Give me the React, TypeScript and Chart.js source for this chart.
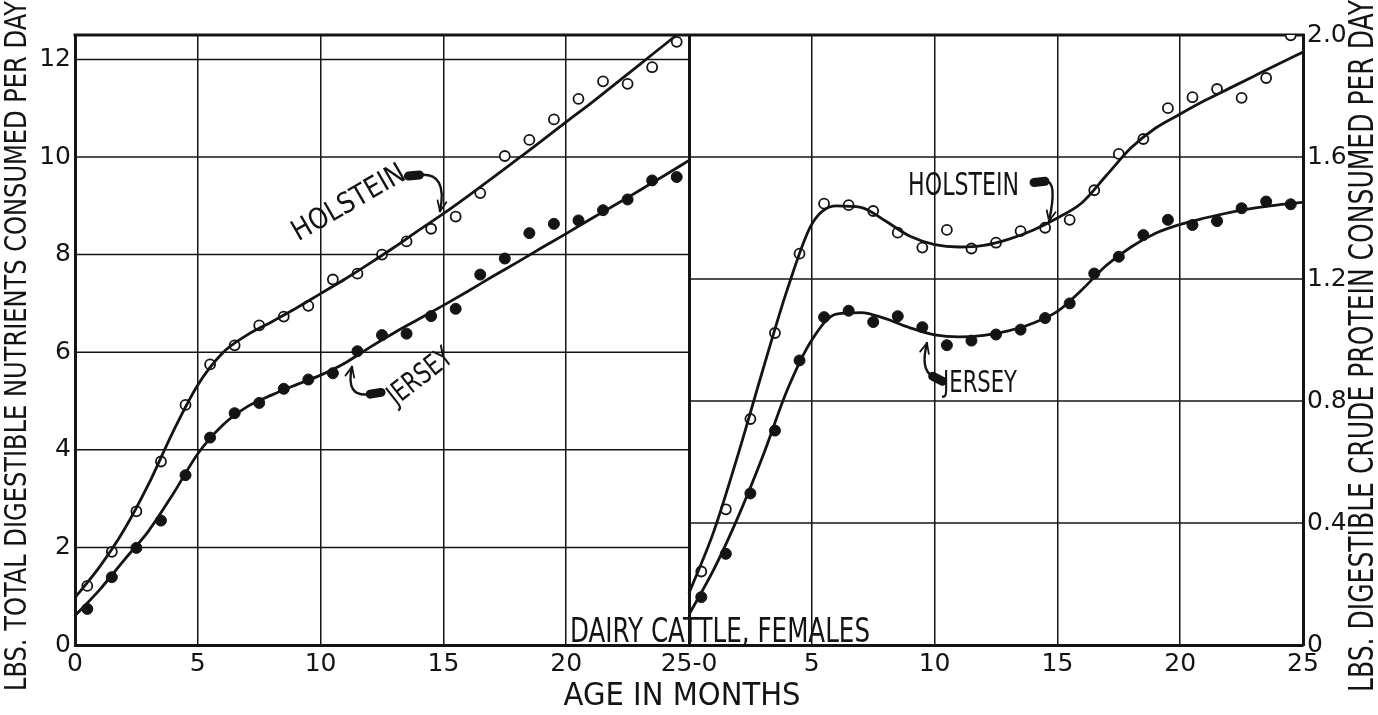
import React, { useEffect, useRef } from "react";
import { Chart, registerables } from "chart.js";

Chart.register(...registerables);

// ---------------- data ----------------
const MONTHS = [0.5, 1.5, 2.5, 3.5, 4.5, 5.5, 6.5, 7.5, 8.5, 9.5, 10.5, 11.5, 12.5, 13.5, 14.5, 15.5, 16.5, 17.5, 18.5, 19.5, 20.5, 21.5, 22.5, 23.5, 24.5];

// Left panel: lbs. total digestible nutrients per day
const TDN_HOLSTEIN = [1.21, 1.91, 2.74, 3.76, 4.92, 5.75, 6.14, 6.55, 6.73, 6.95, 7.49, 7.61, 8.0, 8.27, 8.53, 8.78, 9.26, 10.02, 10.35, 10.77, 11.19, 11.55, 11.5, 11.84, 12.36];
const TDN_JERSEY = [0.74, 1.39, 1.99, 2.55, 3.48, 4.25, 4.75, 4.96, 5.25, 5.44, 5.57, 6.02, 6.35, 6.38, 6.74, 6.89, 7.59, 7.92, 8.44, 8.63, 8.7, 8.91, 9.13, 9.52, 9.59];

// Right panel: lbs. digestible crude protein per day
const PROT_HOLSTEIN = [0.241, 0.445, 0.741, 1.023, 1.283, 1.447, 1.442, 1.423, 1.352, 1.303, 1.361, 1.3, 1.319, 1.357, 1.368, 1.394, 1.491, 1.61, 1.659, 1.76, 1.796, 1.823, 1.794, 1.859, 1.999];
const PROT_JERSEY = [0.157, 0.299, 0.497, 0.703, 0.933, 1.075, 1.096, 1.059, 1.078, 1.042, 0.983, 0.998, 1.018, 1.034, 1.072, 1.12, 1.218, 1.273, 1.344, 1.394, 1.377, 1.39, 1.432, 1.454, 1.445];

// Smoothed (fitted) curves
const CURVE_MONTHS = [0, 1, 2, 3, 4, 5, 6, 7, 8, 9, 10, 11, 12, 13, 14, 15, 16, 17, 18, 19, 20, 21, 22, 23, 24, 25];
const TDN_HOLSTEIN_CURVE = [0.97, 1.6, 2.36, 3.3, 4.38, 5.33, 5.98, 6.35, 6.62, 6.9, 7.2, 7.5, 7.82, 8.15, 8.5, 8.84, 9.2, 9.57, 9.95, 10.33, 10.72, 11.1, 11.5, 11.9, 12.3, 12.7];
const TDN_JERSEY_CURVE = [0.6, 1.13, 1.74, 2.34, 3.1, 3.92, 4.5, 4.88, 5.12, 5.33, 5.53, 5.78, 6.1, 6.4, 6.68, 6.96, 7.25, 7.55, 7.84, 8.14, 8.43, 8.73, 9.02, 9.32, 9.62, 9.93];
const PROT_HOLSTEIN_CURVE = [0.17, 0.37, 0.625, 0.9, 1.165, 1.38, 1.44, 1.435, 1.39, 1.34, 1.313, 1.305, 1.31, 1.33, 1.36, 1.4, 1.45, 1.54, 1.63, 1.695, 1.741, 1.785, 1.825, 1.865, 1.905, 1.944];
const PROT_JERSEY_CURVE = [0.1, 0.246, 0.42, 0.618, 0.836, 1.0, 1.085, 1.09, 1.07, 1.04, 1.017, 1.01, 1.015, 1.03, 1.055, 1.094, 1.165, 1.245, 1.305, 1.35, 1.379, 1.4, 1.418, 1.432, 1.443, 1.451];

const X_TICK_LABELS = ["0", "5", "10", "15", "20", "25-0", "5", "10", "15", "20", "25"];

const LEFT_TITLE = "LBS. TOTAL DIGESTIBLE NUTRIENTS CONSUMED PER DAY";
const RIGHT_TITLE = "LBS. DIGESTIBLE CRUDE PROTEIN CONSUMED PER DAY";
const X_TITLE = "AGE IN MONTHS";
const NOTE = "DAIRY CATTLE, FEMALES";
const HOLSTEIN = "HOLSTEIN";
const JERSEY = "JERSEY";

// ---------------- styling ----------------
const INK = "#141414";
const FONT = '"DejaVu Sans", "Liberation Sans", sans-serif';

type Ann = {
  text: string;
  xs: string;
  ys: string;
  at: [number, number];
  angle: number;
  cap: number;
  width: number;
  tail: [number, number];
  ctrl: [number, number];
  tip: [number, number];
};

const ANNOTATIONS: Ann[] = [
  { text: HOLSTEIN, xs: "xL", ys: "yL", at: [11.1, 9.1], angle: -30, cap: 21, width: 126, tail: [13.78, 9.62], ctrl: [15.19, 9.69], tip: [14.86, 8.89] },
  { text: JERSEY, xs: "xL", ys: "yL", at: [14.0, 5.53], angle: -38, cap: 21, width: 74, tail: [12.26, 5.16], ctrl: [10.99, 5.06], tip: [11.28, 5.7] },
  { text: HOLSTEIN, xs: "xR", ys: "yR", at: [11.18, 1.513], angle: 0, cap: 23, width: 111, tail: [14.25, 1.518], ctrl: [15.02, 1.525], tip: [14.66, 1.39] },
  { text: JERSEY, xs: "xR", ys: "yR", at: [11.85, 0.866], angle: 0, cap: 22, width: 74, tail: [10.14, 0.872], ctrl: [9.41, 0.902], tip: [9.69, 0.99] },
];

function drawFitted(ctx: CanvasRenderingContext2D, text: string, cx: number, cy: number, angleDeg: number, cap: number, width: number) {
  const size = cap / 0.73;
  ctx.save();
  ctx.font = `${size}px ${FONT}`;
  const w = ctx.measureText(text).width;
  ctx.translate(cx, cy);
  ctx.rotate((angleDeg * Math.PI) / 180);
  ctx.scale(width / w, 1);
  ctx.textAlign = "center";
  ctx.textBaseline = "alphabetic";
  ctx.fillStyle = INK;
  ctx.fillText(text, 0, cap / 2);
  ctx.restore();
}

function line(ctx: CanvasRenderingContext2D, x1: number, y1: number, x2: number, y2: number) {
  ctx.beginPath();
  ctx.moveTo(x1, y1);
  ctx.lineTo(x2, y2);
  ctx.stroke();
}

const panelPlugin = {
  id: "panels",
  beforeDatasetsDraw(chart: any) {
    const { ctx, chartArea: a, scales } = chart;
    const xL = scales.xL;
    const yL = scales.yL;
    const yR = scales.yR;
    const mid = xL.getPixelForValue(25);
    ctx.save();
    ctx.strokeStyle = INK;
    ctx.lineWidth = 1.5;
    yL.ticks.forEach((t: any) => {
      if (t.value <= 0) return;
      const y = yL.getPixelForValue(t.value);
      line(ctx, a.left, y, mid, y);
    });
    yR.ticks.forEach((t: any) => {
      if (t.value <= 0) return;
      const y = yR.getPixelForValue(t.value);
      line(ctx, mid, y, a.right, y);
    });
    ctx.lineWidth = 3;
    line(ctx, a.left - 1.5, a.top, a.right + 1.5, a.top);
    ctx.restore();
  },
  afterDatasetsDraw(chart: any) {
    const { ctx, chartArea: a, scales } = chart;
    ctx.save();
    ctx.strokeStyle = INK;
    ctx.fillStyle = INK;
    ANNOTATIONS.forEach((n) => {
      const xs = scales[n.xs];
      const ys = scales[n.ys];
      const px = (p: [number, number]) => [xs.getPixelForValue(p[0]), ys.getPixelForValue(p[1])];
      const [cx, cy] = px(n.at);
      drawFitted(ctx, n.text, cx, cy, n.angle, n.cap, n.width);
      const [tx, ty] = px(n.tail);
      const [kx, ky] = px(n.ctrl);
      const [ex, ey] = px(n.tip);
      // thick tail blob
      let dx = kx - tx;
      let dy = ky - ty;
      let d = Math.hypot(dx, dy) || 1;
      dx /= d;
      dy /= d;
      ctx.lineCap = "round";
      ctx.lineWidth = 9;
      line(ctx, tx - dx * 5, ty - dy * 5, tx + dx * 6, ty + dy * 6);
      // thin curved shaft
      ctx.lineWidth = 2.4;
      ctx.beginPath();
      ctx.moveTo(tx + dx * 6, ty + dy * 6);
      ctx.quadraticCurveTo(kx, ky, ex, ey);
      ctx.stroke();
      // arrow head
      let hx = ex - kx;
      let hy = ey - ky;
      d = Math.hypot(hx, hy) || 1;
      hx /= d;
      hy /= d;
      const L = 11;
      const ang = 0.42;
      ctx.lineWidth = 1.8;
      for (const s of [-1, 1]) {
        const c = Math.cos(s * ang);
        const si = Math.sin(s * ang);
        const bx = -(hx * c - hy * si);
        const by = -(hx * si + hy * c);
        line(ctx, ex, ey, ex + bx * L, ey + by * L);
      }
    });
    // titles
    const midX = scales.xL.getPixelForValue(25);
    drawFitted(ctx, NOTE, midX + 31, a.bottom - 15, 0, 24, 300);
    drawFitted(ctx, X_TITLE, midX - 7, 693, 0, 23, 237);
    drawFitted(ctx, LEFT_TITLE, 15, 346, -90, 22, 690);
    drawFitted(ctx, RIGHT_TITLE, 1361, 346, -90, 24, 692);
    ctx.restore();
  },
};

function pts(xs: number[], ys: number[]) {
  return xs.map((x, i) => ({ x, y: ys[i] }));
}

export default function App() {
  const ref = useRef<HTMLCanvasElement | null>(null);

  useEffect(() => {
    if (!ref.current) return;
    const tickFont = { family: FONT, size: 25 };
    const curve = (data: any, xAxisID: string, yAxisID: string) => ({
      data,
      xAxisID,
      yAxisID,
      borderColor: INK,
      borderWidth: 2.8,
      pointRadius: 0,
      fill: false,
      cubicInterpolationMode: "monotone" as const,
    });
    const open = (data: any, xAxisID: string, yAxisID: string) => ({
      data,
      xAxisID,
      yAxisID,
      showLine: false,
      pointStyle: "circle" as const,
      pointRadius: 5,
      pointBackgroundColor: "#ffffff",
      pointBorderColor: INK,
      pointBorderWidth: 1.8,
    });
    const filled = (data: any, xAxisID: string, yAxisID: string) => ({
      data,
      xAxisID,
      yAxisID,
      showLine: false,
      pointStyle: "circle" as const,
      pointRadius: 5.5,
      pointBackgroundColor: INK,
      pointBorderColor: INK,
      pointBorderWidth: 1,
    });

    const chart = new Chart(ref.current, {
      type: "line",
      data: {
        datasets: [
          curve(pts(CURVE_MONTHS, TDN_HOLSTEIN_CURVE), "xL", "yL"),
          curve(pts(CURVE_MONTHS, TDN_JERSEY_CURVE), "xL", "yL"),
          curve(pts(CURVE_MONTHS, PROT_HOLSTEIN_CURVE), "xR", "yR"),
          curve(pts(CURVE_MONTHS, PROT_JERSEY_CURVE), "xR", "yR"),
          open(pts(MONTHS, TDN_HOLSTEIN), "xL", "yL"),
          filled(pts(MONTHS, TDN_JERSEY), "xL", "yL"),
          open(pts(MONTHS, PROT_HOLSTEIN), "xR", "yR"),
          filled(pts(MONTHS, PROT_JERSEY), "xR", "yR"),
        ] as any,
      },
      options: {
        animation: false,
        responsive: true,
        maintainAspectRatio: false,
        events: [],
        layout: { padding: { top: 35, left: 0, right: 0, bottom: 0 } },
        plugins: {
          legend: { display: false },
          tooltip: { enabled: false },
          title: { display: false },
        },
        scales: {
          xL: {
            type: "linear",
            position: "bottom",
            min: 0,
            max: 50,
            ticks: {
              stepSize: 5,
              autoSkip: false,
              maxRotation: 0,
              padding: 4,
              color: INK,
              font: tickFont,
              callback: (v: any) => X_TICK_LABELS[Math.round(Number(v) / 5)] ?? "",
            },
            grid: {
              color: INK,
              drawTicks: false,
              lineWidth: (c: any) => (c.tick && Math.abs(c.tick.value - 25) < 1e-6 ? 3 : 1.5),
            },
            border: { color: INK, width: 3 },
            afterFit: (s: any) => {
              s.height = 70;
            },
          },
          xR: {
            type: "linear",
            display: false,
            min: -25,
            max: 25,
          },
          yL: {
            type: "linear",
            position: "left",
            min: 0,
            max: 12.5,
            ticks: {
              stepSize: 2,
              includeBounds: false,
              padding: 4,
              color: INK,
              font: tickFont,
              callback: (v: any) => String(v),
            },
            grid: { display: false, drawTicks: false },
            border: { color: INK, width: 3 },
            afterFit: (s: any) => {
              s.width = 75;
            },
          },
          yR: {
            type: "linear",
            position: "right",
            min: 0,
            max: 2.0,
            ticks: {
              stepSize: 0.4,
              includeBounds: false,
              padding: 4,
              color: INK,
              font: tickFont,
              callback: (v: any) => (Number(v) === 0 ? "0" : Number(v).toFixed(1)),
            },
            grid: { display: false, drawTicks: false },
            border: { color: INK, width: 3 },
            afterFit: (s: any) => {
              s.width = 75;
            },
          },
        },
      } as any,
      plugins: [panelPlugin],
    });
    return () => chart.destroy();
  }, []);

  return (
    <div style={{ position: "absolute", left: 0, top: 0, width: 1378, height: 715, background: "#ffffff" }}>
      <canvas ref={ref} />
    </div>
  );
}
